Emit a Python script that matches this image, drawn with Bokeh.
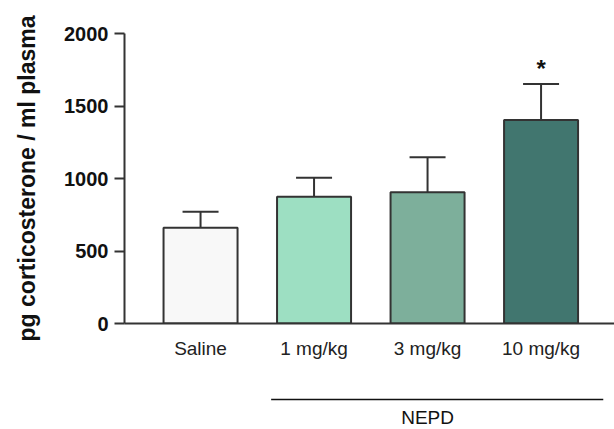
from bokeh.plotting import figure
from bokeh.models import Range1d, FixedTicker, Whisker, TeeHead, ColumnDataSource
from bokeh.layouts import column
from bokeh.core.properties import value
from bokeh.embed import file_html
from bokeh.resources import INLINE

categories = ["Saline", "1 mg/kg", "3 mg/kg", "10 mg/kg"]
means = [661, 874, 905, 1403]
sems = [110, 132, 241, 249]
colors = ["#f8f8f8", "#9ddfc2", "#7daf9b", "#41766f"]
signif = ["", "", "", "*"]
y_ticks = [0, 500, 1000, 1500, 2000]
group_label = "NEPD"
group_members = [1, 2, 3]
y_label = "pg corticosterone / ml plasma"

FONT = "Liberation Sans"
AX = "#333333"

xs = list(range(len(categories)))
upper = [m + s for m, s in zip(means, sems)]
src = ColumnDataSource(dict(x=xs, top=means, upper=upper, color=colors, sig=signif))

xr = Range1d(-0.67, 3.647)
p = figure(width=614, height=378, x_range=xr, y_range=Range1d(0, 2000),
           output_backend="svg", toolbar_location=None,
           min_border_left=124, min_border_right=0, min_border_top=33, min_border_bottom=55)
p.outline_line_color = None
p.xgrid.visible = False
p.ygrid.visible = False

p.vbar(x="x", top="top", width=0.652, bottom=0, fill_color="color", line_color=AX,
       line_width=2, source=src)
w = Whisker(base="x", lower="top", upper="upper", source=src, line_color=AX, line_width=2,
            upper_head=TeeHead(size=36, line_color=AX, line_width=2), lower_head=None)
p.add_layout(w)
p.text(x="x", y="upper", text="sig", source=src, text_align="center", text_baseline="alphabetic",
       y_offset=-15, text_font=value(FONT), text_font_size="24px", text_font_style="bold",
       text_color="#111111")

# y axis
p.yaxis.ticker = FixedTicker(ticks=y_ticks)
p.yaxis.axis_label = y_label
p.yaxis.axis_label_text_font = FONT
p.yaxis.axis_label_text_font_size = "23px"
p.yaxis.axis_label_text_font_style = "bold"
p.yaxis.axis_label_text_color = "#111111"
p.yaxis.axis_label_standoff = 21
p.yaxis.major_label_text_font = FONT
p.yaxis.major_label_text_font_size = "20px"
p.yaxis.major_label_text_font_style = "bold"
p.yaxis.major_label_text_color = "#111111"
p.yaxis.major_label_standoff = 6
p.yaxis.major_tick_out = 10
p.yaxis.major_tick_in = 0
p.yaxis.minor_tick_line_color = None
p.yaxis.axis_line_width = 2
p.yaxis.axis_line_color = AX
p.yaxis.major_tick_line_width = 2
p.yaxis.major_tick_line_color = AX

# x axis
p.xaxis.ticker = FixedTicker(ticks=xs)
p.xaxis.major_label_overrides = {i: c for i, c in zip(xs, categories)}
p.xaxis.major_label_text_font = FONT
p.xaxis.major_label_text_font_size = "19px"
p.xaxis.major_label_text_color = "#222222"
p.xaxis.major_label_standoff = 8
p.xaxis.major_tick_line_color = None
p.xaxis.minor_tick_line_color = None
p.xaxis.axis_line_width = 2
p.xaxis.axis_line_color = AX

# group bracket figure
p2 = figure(width=614, height=51, x_range=xr, y_range=Range1d(0, 51),
            output_backend="svg", toolbar_location=None,
            min_border_left=124, min_border_right=0, min_border_top=0, min_border_bottom=0)
p2.axis.visible = False
p2.grid.visible = False
p2.outline_line_color = None
x0 = min(group_members) - 0.378
x1 = max(group_members) + 0.548
p2.segment(x0=[x0], y0=[30], x1=[x1], y1=[30], line_color="#111111", line_width=1.5)
gx = sum(group_members) / len(group_members)
p2.text(x=[gx], y=[12], text=[group_label], text_align="center", text_baseline="alphabetic",
        text_font=value(FONT), text_font_size="19px", text_color="#111111")

lay = column(p, p2, spacing=0)
open("out.html", "w").write(file_html(lay, INLINE))
